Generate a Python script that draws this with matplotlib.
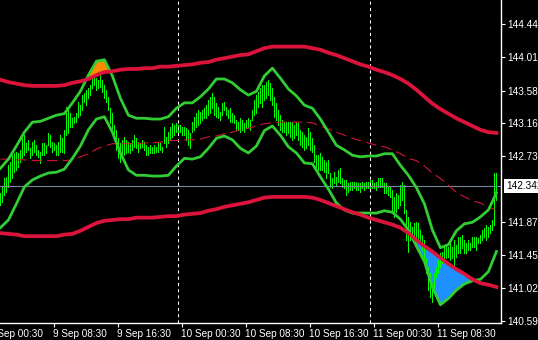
import matplotlib.pyplot as plt
import numpy as np

# M15 bars, x = bar number counted from 9 Sep 00:00
bar_high = [
    142.25, 142.33, 142.44, 142.46, 142.61, 142.65, 142.74, 142.77, 142.78, 142.77,
    142.81, 142.96, 143.00, 142.90, 142.94, 142.83, 142.91, 142.94, 142.87, 142.81,
    142.78, 142.90, 142.90, 142.87, 143.03, 143.00, 142.91, 142.90, 142.87, 142.91,
    143.00, 142.96, 143.07, 143.37, 143.33, 143.29, 143.22, 143.24, 143.29, 143.43,
    143.39, 143.52, 143.55, 143.59, 143.61, 143.65, 143.76, 143.78, 143.74, 143.72,
    143.78, 143.72, 143.65, 143.59, 143.50, 143.35, 143.29, 143.13, 143.07, 142.96,
    142.90, 142.94, 142.98, 142.94, 142.91, 142.90, 142.94, 143.00, 142.96, 142.91,
    142.90, 142.94, 142.91, 142.87, 142.85, 142.87, 142.85, 142.87, 142.85, 142.90,
    142.90, 142.85, 143.11, 142.98, 143.04, 143.11, 143.16, 143.13, 143.16, 143.13,
    143.13, 143.11, 143.11, 143.09, 143.07, 143.03, 143.17, 143.24, 143.29, 143.33,
    143.30, 143.33, 143.35, 143.39, 143.46, 143.50, 143.55, 143.50, 143.42, 143.37,
    143.30, 143.42, 143.43, 143.37, 143.33, 143.35, 143.29, 143.26, 143.20, 143.17,
    143.22, 143.20, 143.16, 143.20, 143.22, 143.20, 143.33, 143.46, 143.52, 143.56,
    143.61, 143.65, 143.65, 143.69, 143.72, 143.68, 143.61, 143.50, 143.42, 143.33,
    143.26, 143.20, 143.17, 143.17, 143.17, 143.17, 143.17, 143.13, 143.17, 143.16,
    143.07, 143.04, 143.00, 142.98, 143.09, 143.04, 142.96, 142.87, 142.74, 142.74,
    142.77, 142.72, 142.68, 142.65, 142.68, 142.51, 142.44, 142.52, 142.46, 142.55,
    142.57, 142.44, 142.42, 142.42, 142.38, 142.39, 142.39, 142.39, 142.39, 142.38,
    142.38, 142.39, 142.38, 142.39, 142.39, 142.42, 142.42, 142.38, 142.39, 142.44,
    142.44, 142.44, 142.38, 142.38, 142.33, 142.33, 142.29, 142.20, 142.25, 142.22,
    142.35, 142.39, 142.35, 142.03, 141.94, 141.87, 141.81, 141.86, 141.87, 141.86,
    141.77, 141.71, 141.64, 141.41, 141.29, 141.21, 141.08, 141.21, 141.29, 141.38,
    141.47, 141.49, 141.55, 141.58, 141.55, 141.60, 141.55, 141.64, 141.58, 141.68,
    141.68, 141.71, 141.64, 141.60, 141.64, 141.60, 141.68, 141.68, 141.68, 141.67,
    141.71, 141.77, 141.80, 141.84, 141.81, 141.84, 141.90, 142.51, 142.51,
]
bar_low = [
    142.09, 142.13, 142.22, 142.26, 142.33, 142.39, 142.44, 142.52, 142.55, 142.59,
    142.65, 142.70, 142.74, 142.78, 142.81, 142.70, 142.74, 142.78, 142.74, 142.72,
    142.64, 142.74, 142.74, 142.77, 142.87, 142.85, 142.78, 142.81, 142.74, 142.74,
    142.78, 142.78, 142.77, 143.00, 143.03, 143.11, 143.11, 143.16, 143.17, 143.24,
    143.26, 143.33, 143.43, 143.39, 143.48, 143.52, 143.61, 143.65, 143.59, 143.61,
    143.63, 143.56, 143.48, 143.43, 143.33, 143.16, 143.04, 142.94, 142.81, 142.70,
    142.65, 142.74, 142.74, 142.77, 142.78, 142.77, 142.81, 142.85, 142.83, 142.78,
    142.83, 142.85, 142.81, 142.74, 142.74, 142.77, 142.77, 142.77, 142.78, 142.78,
    142.81, 142.78, 142.90, 142.85, 142.90, 142.94, 142.98, 143.00, 143.04, 143.03,
    143.04, 143.00, 143.00, 142.94, 142.87, 142.83, 143.04, 143.07, 143.11, 143.13,
    143.16, 143.20, 143.22, 143.22, 143.26, 143.29, 143.35, 143.26, 143.24, 143.22,
    143.20, 143.26, 143.33, 143.26, 143.22, 143.17, 143.17, 143.16, 143.07, 143.07,
    143.04, 143.07, 143.04, 143.09, 143.11, 143.07, 143.20, 143.26, 143.29, 143.37,
    143.42, 143.37, 143.46, 143.48, 143.52, 143.46, 143.39, 143.24, 143.20, 143.13,
    143.07, 143.04, 143.04, 143.00, 143.03, 142.98, 142.94, 142.96, 143.00, 142.94,
    142.87, 142.85, 142.81, 142.83, 142.87, 142.81, 142.78, 142.65, 142.55, 142.55,
    142.55, 142.55, 142.52, 142.44, 142.51, 142.33, 142.32, 142.38, 142.35, 142.39,
    142.38, 142.33, 142.32, 142.22, 142.26, 142.29, 142.29, 142.32, 142.29, 142.29,
    142.26, 142.32, 142.29, 142.32, 142.32, 142.29, 142.32, 142.32, 142.29, 142.33,
    142.33, 142.33, 142.25, 142.25, 142.22, 142.20, 142.03, 141.94, 142.00, 142.06,
    142.09, 142.16, 141.99, 141.64, 141.49, 141.64, 141.68, 141.64, 141.61, 141.64,
    141.60, 141.51, 141.38, 141.21, 140.99, 140.90, 140.84, 140.99, 141.16, 141.21,
    141.29, 141.34, 141.38, 141.41, 141.42, 141.38, 141.41, 141.29, 141.42, 141.47,
    141.47, 141.54, 141.47, 141.47, 141.51, 141.51, 141.55, 141.55, 141.51, 141.60,
    141.60, 141.64, 141.68, 141.64, 141.68, 141.73, 141.77, 141.84, 142.16,
]
bar_x = np.arange(7, 7 + len(bar_high))

# indicator lines, read every 4th bar
band_x = np.arange(7, 256, 4)
outer_upper = [
    143.72, 143.69, 143.67, 143.65, 143.64, 143.64, 143.64, 143.64, 143.65, 143.68,
    143.70, 143.73, 143.78, 143.82, 143.83, 143.85, 143.86, 143.86, 143.87, 143.87,
    143.89, 143.89, 143.90, 143.91, 143.92, 143.94, 143.95, 143.98, 144.00, 144.02,
    144.04, 144.05, 144.09, 144.13, 144.15, 144.15, 144.15, 144.15, 144.15, 144.13,
    144.11, 144.07, 144.04, 144.00, 143.96, 143.92, 143.89, 143.85, 143.82, 143.78,
    143.73, 143.67, 143.59, 143.50, 143.41, 143.34, 143.28, 143.22, 143.17, 143.12,
    143.07, 143.04, 143.03,
]
outer_lower = [
    141.73, 141.72, 141.71, 141.69, 141.69, 141.69, 141.69, 141.69, 141.71, 141.72,
    141.76, 141.81, 141.86, 141.89, 141.90, 141.91, 141.91, 141.93, 141.93, 141.93,
    141.94, 141.95, 141.95, 141.97, 141.98, 141.99, 142.02, 142.04, 142.07, 142.09,
    142.11, 142.13, 142.16, 142.19, 142.20, 142.20, 142.20, 142.20, 142.20, 142.19,
    142.16, 142.12, 142.08, 142.04, 142.00, 141.97, 141.93, 141.90, 141.87, 141.84,
    141.80, 141.73, 141.64, 141.56, 141.49, 141.41, 141.33, 141.26, 141.20, 141.13,
    141.08, 141.06, 141.03,
]
outer_mid = [
    142.69, 142.69, 142.68, 142.68, 142.67, 142.67, 142.67, 142.67, 142.67, 142.68,
    142.72, 142.76, 142.82, 142.86, 142.89, 142.89, 142.89, 142.89, 142.90, 142.90,
    142.91, 142.93, 142.93, 142.94, 142.94, 142.95, 142.98, 142.99, 143.02, 143.04,
    143.07, 143.09, 143.12, 143.15, 143.16, 143.17, 143.17, 143.17, 143.17, 143.16,
    143.12, 143.08, 143.04, 143.00, 142.96, 142.93, 142.90, 142.87, 142.85, 142.81,
    142.76, 142.70, 142.67, 142.60, 142.51, 142.44, 142.35, 142.26, 142.20, 142.15,
    142.12, 142.07, 142.02,
]
inner_upper = [
    142.57, 142.69, 142.86, 143.04, 143.17, 143.18, 143.22, 143.26, 143.28, 143.42,
    143.57, 143.78, 143.96, 143.98, 143.77, 143.48, 143.26, 143.22, 143.22, 143.21,
    143.21, 143.24, 143.35, 143.42, 143.42, 143.50, 143.60, 143.73, 143.73, 143.68,
    143.59, 143.52, 143.57, 143.77, 143.87, 143.74, 143.60, 143.51, 143.39, 143.35,
    143.21, 143.04, 142.87, 142.81, 142.74, 142.72, 142.73, 142.73, 142.76, 142.76,
    142.61, 142.48, 142.32, 142.11, 141.77, 141.54, 141.58, 141.76, 141.85, 141.87,
    141.94, 142.03, 142.25,
]
inner_lower = [
    141.80, 141.90, 142.11, 142.33, 142.42, 142.47, 142.51, 142.52, 142.56, 142.70,
    142.86, 143.07, 143.21, 143.24, 143.04, 142.77, 142.55, 142.48, 142.48, 142.47,
    142.47, 142.48, 142.60, 142.70, 142.69, 142.72, 142.83, 142.96, 142.99, 142.94,
    142.83, 142.77, 142.86, 143.06, 143.12, 143.00, 142.85, 142.77, 142.64, 142.63,
    142.46, 142.30, 142.12, 142.03, 141.99, 141.99, 141.99, 141.99, 142.02, 142.00,
    141.91, 141.77, 141.56, 141.36, 141.03, 140.80, 140.88, 140.99, 141.07, 141.11,
    141.13, 141.23, 141.49,
]

last_price = 142.342
day_breaks = [96, 192]
time_ticks = [2, 34, 66, 98, 130, 162, 194, 226]
time_labels = ['9 Sep 00:30', '9 Sep 08:30', '9 Sep 16:30', '10 Sep 00:30',
               '10 Sep 08:30', '10 Sep 16:30', '11 Sep 00:30', '11 Sep 08:30']
price_ticks = [140.59, 141.02, 141.45, 141.87, 142.73, 143.16, 143.58, 144.01, 144.44]

plt.rcParams['font.family'] = ['Liberation Sans', 'DejaVu Sans']

fig = plt.figure(figsize=(5.38, 3.40), dpi=100, facecolor='black')
ax = fig.add_axes([0, 17 / 340, 501 / 538, 323 / 340])
ax.set_facecolor('black')
x_lo, x_hi = 6.8, 257.3
ax.set_xlim(x_lo, x_hi)
ax.set_ylim(140.563, 144.755)

iu, il = np.array(inner_upper), np.array(inner_lower)
ou, ol = np.array(outer_upper), np.array(outer_lower)
ax.fill_between(band_x, iu, ou, where=iu > ou, interpolate=True,
                color='#ff8c00', lw=0, zorder=1)
ax.fill_between(band_x, il, ol, where=il < ol, interpolate=True,
                color='#1e90ff', lw=0, zorder=1)

# thin 1px bars like the terminal draws them
ax.vlines(bar_x, bar_low, bar_high, color='#00ff00', lw=0.5,
          antialiased=False, zorder=2)

ax.axhline(last_price, color='#778899', lw=0.8, zorder=2.5)
for d in day_breaks:
    ax.axvline(d, color='white', lw=0.75, ls=(0, (3, 3)), zorder=2.5)

ax.plot(band_x, outer_mid, color='#dc143c', lw=0.75, ls=(0, (10, 5)), zorder=3)
ax.plot(band_x, inner_upper, color='#32cd32', lw=2.0, zorder=3)
ax.plot(band_x, inner_lower, color='#32cd32', lw=2.0, zorder=3)
ax.plot(band_x, outer_upper, color='#dc143c', lw=2.7, zorder=4)
ax.plot(band_x, outer_lower, color='#dc143c', lw=2.7, zorder=4)

for s in ['top', 'left']:
    ax.spines[s].set_visible(False)
for s in ['right', 'bottom']:
    ax.spines[s].set_color('white')
    ax.spines[s].set_linewidth(1)

ax.yaxis.tick_right()
ax.set_yticks(price_ticks)
ax.set_yticklabels([f'{p:.3f}' for p in price_ticks])
ax.tick_params(axis='y', colors='white', length=3, width=0.8, pad=1.5,
               labelsize=7.2, direction='out')

ax.set_xticks([t for t in time_ticks if x_lo < t < x_hi])
ax.set_xticklabels([])
ax.tick_params(axis='x', colors='white', length=3, width=0.8, direction='out')
for t, lab in zip(time_ticks, time_labels):
    ax.annotate(lab, xy=(t, 0), xycoords=('data', 'axes fraction'),
                xytext=(-1, -6), textcoords='offset pixels', ha='left', va='top',
                color='white', fontsize=7.2, annotation_clip=False)

ax.annotate(f'{last_price:.3f}', xy=(1, last_price), xycoords=('axes fraction', 'data'),
            xytext=(5, 0), textcoords='offset pixels', ha='left', va='center',
            color='black', fontsize=7.2, annotation_clip=False, zorder=5,
            bbox=dict(boxstyle='square,pad=0.2', fc='white', ec='none'))

fig.savefig('out.png', dpi=100, facecolor='black')
